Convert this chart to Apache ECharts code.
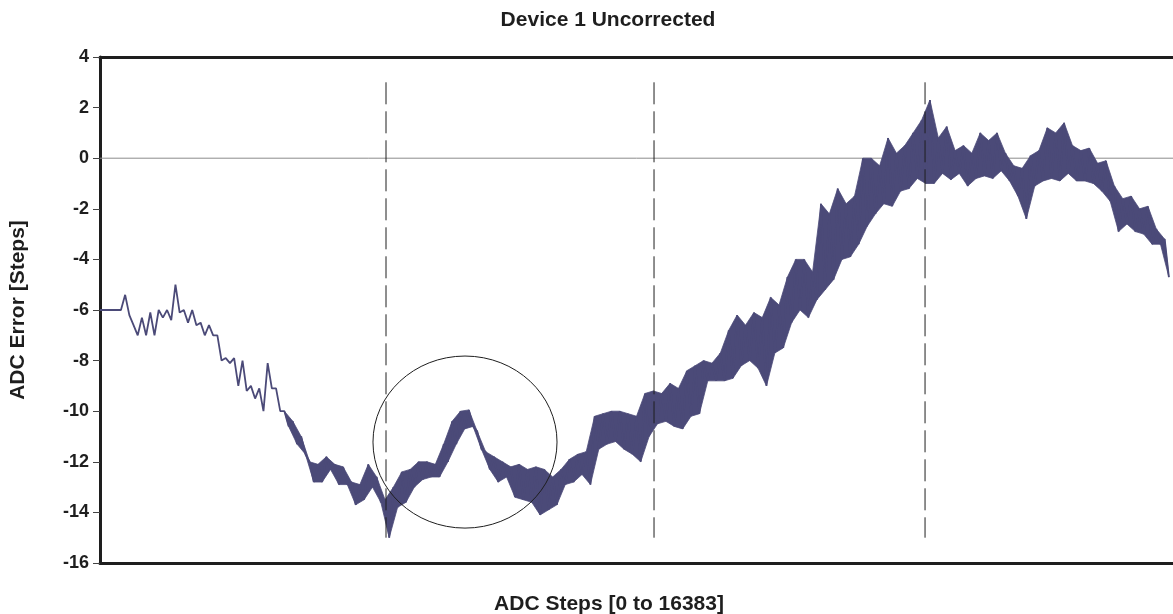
<!DOCTYPE html>
<html>
<head>
<meta charset="utf-8">
<script src="https://cdn.jsdelivr.net/npm/echarts@6/dist/echarts.min.js"></script>
<style>
  html, body { margin: 0; padding: 0; background: #ffffff; }
  #chart { width: 1173px; height: 614px; }
</style>
</head>
<body>
<div id="chart"></div>
<script>
// Labels
const chartTitle = 'Device 1 Uncorrected';
const xAxisTitle = 'ADC Steps [0 to 16383]';
const yAxisTitle = 'ADC Error [Steps]';

// Axis ranges
const stepRange = [0, 16383];
const errorRange = [-16, 4];
const errorTickStep = 2;

// Error trace: one sample every 128 ADC steps, upper and lower excursion of each sample
const sampleStride = 128;
const errHigh = [
  -6, -6, -6, -5.4, -6.6, -6.3, -6.1, -6, -6, -5.0,
  -6, -6, -6.5, -6.6, -7, -7.9, -7.9, -8, -9, -9.1,
  -8.1, -9.1, -10, -10.4, -11, -12, -12.1, -11.8, -12.1, -12.2,
  -12.8, -12.9, -12.1, -12.6, -13.5, -13, -12.4, -12.3, -12, -12,
  -12.1, -11.3, -10.4, -10, -9.95, -10.8, -11.6, -11.8, -12, -12.2,
  -12.1, -12.3, -12.2, -12.3, -12.6, -12.3, -11.9, -11.7, -11.6, -10.2,
  -10.1, -10, -10, -10.1, -10.2, -9.3, -9.2, -9.3, -8.9, -9.1,
  -8.4, -8.2, -8, -8.1, -7.7, -6.8, -6.2, -6.6, -6.1, -6.3,
  -5.5, -5.8, -4.7, -4, -4, -4.5, -1.8, -2.2, -1.2, -1.8,
  -1.5, 0, 0, -0.3, 0.8, 0.2, 0.5, 1, 1.5, 2.3,
  0.8, 1.25, 0.3, 0.5, 0.2, 1, 0.7, 1, 0.2, -0.3,
  -0.4, 0.1, 0.3, 1.2, 1, 1.4, 0.5, 0.3, 0.4, -0.2,
  -0.1, -1.1, -1.6, -1.5, -2, -1.9, -2.8, -3.2
];
const errLow = [
  -6, -6, -6, -6.2, -7, -7, -7, -6.3, -6.4, -6.1,
  -6.5, -6.6, -7, -7, -8, -8.1, -9, -9.2, -9.5, -10,
  -9.1, -10, -10.6, -11.3, -11.7, -12.8, -12.8, -12.3, -12.9, -12.9,
  -13.7, -13.5, -13, -13.6, -15, -13.8, -13.6, -13, -12.7, -12.6,
  -12.6, -12, -11.3, -10.7, -10.6, -11.5, -12.3, -12.8, -12.6, -13.4,
  -13.5, -13.6, -14.1, -13.9, -13.7, -12.9, -12.8, -12.5, -12.9, -11.5,
  -11.3, -11.2, -11.5, -11.7, -12, -11, -10.5, -10.4, -10.6, -10.7,
  -10.2, -10.1, -8.8, -8.8, -8.8, -8.7, -8.2, -8, -8.3, -9,
  -7.7, -7.5, -6.5, -6, -6.3, -5.6, -5.2, -4.8, -4, -3.9,
  -3.4, -2.7, -2.2, -1.8, -1.9, -1.3, -1.2, -0.8, -1, -1,
  -0.6, -0.85, -0.6, -1.1, -0.8, -0.7, -0.8, -0.5, -0.9, -1.5,
  -2.4, -1.1, -0.9, -0.8, -0.9, -0.6, -0.9, -0.9, -1, -1.3,
  -1.7, -2.9, -2.6, -2.9, -3, -3.4, -3.4, -4.7
];
// first sample where the noise becomes a dense band
const denseFrom = 22;

// Vertical segment markers (ADC step) and their extent in error steps
const segmentSteps = [4367, 8459, 12597];
const segmentExtent = [3, -15];

// Highlighted region: centre (step, error) and half-widths (steps, error)
const highlightCentre = [5573, -11.22];
const highlightRadius = [1405, 3.4];

// Zig-zag trace through each sample's high and low excursion
const trace = [];
errHigh.forEach((hi, i) => {
  const x = i * sampleStride;
  trace.push([x, hi], [x + sampleStride / 2, errLow[i]]);
});

const fontFamily = '"Liberation Sans", Arial, Helvetica, sans-serif';
const ink = '#1e1e1e';
const traceColor = '#4b4a78';

const chart = echarts.init(document.getElementById('chart'), null, { renderer: 'canvas' });

const frameAxis = (position) => ({
  type: 'value',
  position: position,
  min: stepRange[0],
  max: stepRange[1],
  axisLine: { show: true, onZero: false, lineStyle: { color: ink, width: 3 } },
  axisTick: { show: false },
  axisLabel: { show: false },
  splitLine: { show: false }
});

const series = [
  {
    name: 'zero',
    type: 'line',
    data: [[stepRange[0], 0], [stepRange[1], 0]],
    symbol: 'none',
    silent: true,
    lineStyle: { color: '#8c8c8c', width: 1 },
    z: 1
  },
  {
    // filled band between the high and low excursions where the noise is dense
    name: 'envelope',
    type: 'custom',
    silent: true,
    z: 2,
    data: [[0]],
    renderItem: (params, api) => {
      const upper = [];
      const lower = [];
      for (let i = denseFrom; i < errHigh.length; i++) {
        upper.push(api.coord([i * sampleStride, errHigh[i]]));
        lower.push(api.coord([i * sampleStride + sampleStride / 2, errLow[i]]));
      }
      return {
        type: 'polygon',
        shape: { points: upper.concat(lower.reverse()) },
        style: { fill: traceColor, stroke: traceColor, lineWidth: 0.8 }
      };
    }
  },
  {
    name: 'error',
    type: 'line',
    data: trace,
    symbol: 'none',
    silent: true,
    lineStyle: { color: traceColor, width: 1.8 },
    z: 3
  }
];

segmentSteps.forEach((s) => {
  series.push({
    type: 'line',
    data: [[s, segmentExtent[0]], [s, segmentExtent[1]]],
    symbol: 'none',
    silent: true,
    lineStyle: { color: ink, width: 1, type: [22, 7] },
    z: 4
  });
});

series.push({
  type: 'custom',
  silent: true,
  clip: false,
  z: 5,
  data: [highlightCentre],
  renderItem: (params, api) => {
    const c = api.coord([api.value(0), api.value(1)]);
    const s = api.size(highlightRadius);
    return {
      type: 'ellipse',
      shape: { cx: c[0], cy: c[1], rx: s[0], ry: s[1] },
      style: { fill: 'none', stroke: ink, lineWidth: 1 }
    };
  }
});

chart.setOption({
  animation: false,
  backgroundColor: '#ffffff',
  textStyle: { fontFamily: fontFamily },
  grid: { left: 100, right: 0, top: 57, bottom: 51, containLabel: false, outerBoundsMode: 'none' },
  xAxis: [frameAxis('bottom'), frameAxis('top')],
  yAxis: {
    type: 'value',
    min: errorRange[0],
    max: errorRange[1],
    interval: errorTickStep,
    axisLine: { show: true, onZero: false, lineStyle: { color: ink, width: 3 } },
    axisTick: { show: true, length: 7, lineStyle: { color: '#444', width: 1 } },
    axisLabel: { fontFamily: fontFamily, fontWeight: 'bold', fontSize: 18, color: ink, margin: 11 },
    splitLine: { show: false },
    name: yAxisTitle,
    nameLocation: 'middle',
    nameGap: 71,
    nameRotate: 90,
    nameTextStyle: { fontFamily: fontFamily, fontWeight: 'bold', fontSize: 21, color: ink }
  },
  graphic: [
    {
      type: 'text', x: 608, y: 20,
      style: { text: chartTitle, fontFamily: fontFamily, fontWeight: 'bold', fontSize: 21, fill: ink, textAlign: 'center', textVerticalAlign: 'middle' }
    },
    {
      type: 'text', x: 609, y: 604,
      style: { text: xAxisTitle, fontFamily: fontFamily, fontWeight: 'bold', fontSize: 21, fill: ink, textAlign: 'center', textVerticalAlign: 'middle' }
    }
  ],
  series: series
});
</script>
</body>
</html>
